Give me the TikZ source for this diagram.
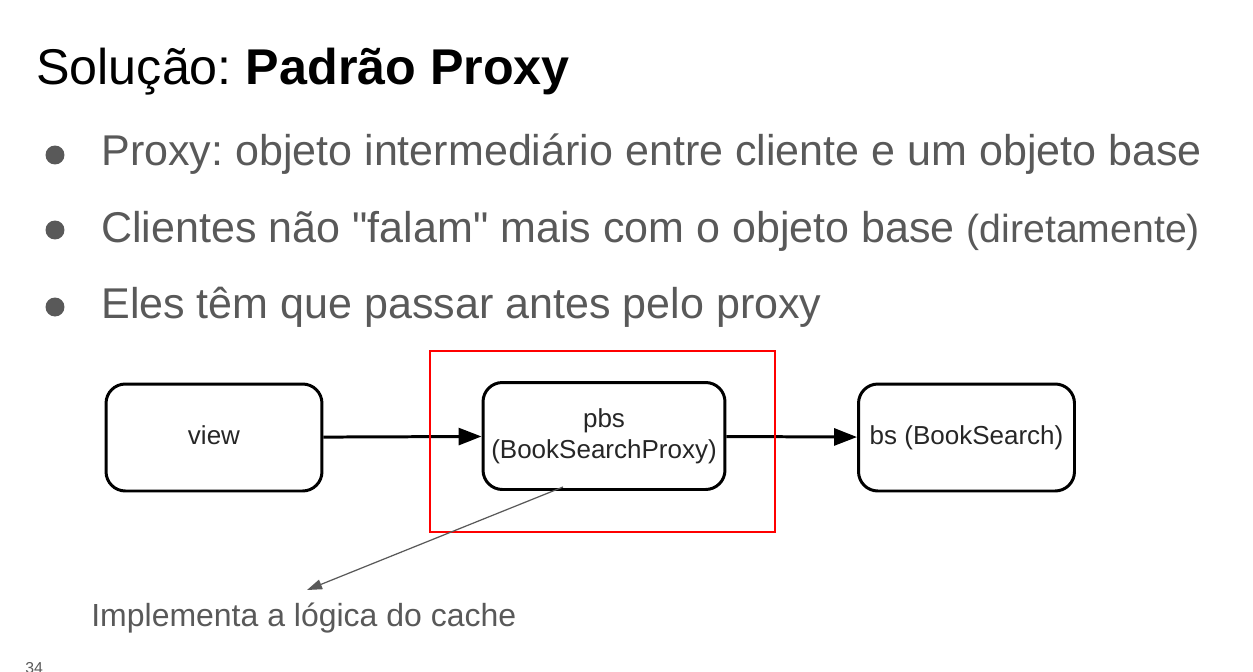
\documentclass[tikz,border=0pt]{standalone}
\usepackage{fontspec}
\setmainfont{Liberation Sans}[Ligatures=TeXOff]
\usetikzlibrary{arrows.meta}
\frenchspacing

\definecolor{slidegray}{HTML}{595959}
\definecolor{boxink}{HTML}{262626}

\tikzset{
  objbox/.style={draw, line width=1.7pt, rounded corners=11pt,
    minimum width=4.32cm, minimum height=2.14cm, align=center,
    text=boxink, font=\fontsize{14.8}{17.6}\selectfont},
  bulletdot/.style={circle, fill=slidegray, inner sep=0pt, minimum size=0.38cm},
  bullettext/.style={anchor=base west, inner sep=0pt, text=slidegray,
    font=\fontsize{24.5}{29}\selectfont},
  callflow/.style={-{Triangle[length=0.46cm, width=0.34cm]}, line width=1.7pt},
  notearrow/.style={-{Triangle[length=0.3cm, width=0.2cm]}, line width=0.7pt, slidegray}
}

\begin{document}
\begin{tikzpicture}[x=0.02cm, y=-0.02cm]
  \useasboundingbox (0,0) rectangle (1253,672);

  % title
  \node (title) [anchor=base west, inner sep=0pt, font=\fontsize{28.6}{34}\selectfont]
    at (36,85) {Solução: \textbf{Padrão Proxy}};

  % bullets
  \node (dot1) [bulletdot] at (55,155) {};
  \node (dot2) [bulletdot] at (55,230) {};
  \node (dot3) [bulletdot] at (55,307) {};
  \node (item1) [bullettext] at (101,166) {Proxy: objeto intermediário entre cliente e um objeto base};
  \node (item2) [bullettext] at (101,242) {Clientes não "falam" mais com o objeto base
    {\fontsize{22.3}{26}\selectfont(diretamente)}};
  \node (item3) [bullettext] at (101,318) {Eles têm que passar antes pelo proxy};

  % objects
  \node (view) [objbox, text depth=0.1cm] at (214,437.5) {view};
  \node (pbs) [objbox, minimum width=4.84cm] at (604,436) {pbs\\(BookSearchProxy)};
  \node (bs) [objbox, text depth=0.1cm] at (966.5,437.5) {bs (BookSearch)};
  \draw[callflow] (view) -- (pbs);
  \draw[callflow] (pbs) -- (bs);

  % proxy frame
  \draw[red, line width=0.6pt] (430,351) rectangle (775,532);

  % note
  \node (note) [anchor=base west, inner sep=0pt, text=slidegray,
    font=\fontsize{18.2}{22}\selectfont] at (91,626) {Implementa a lógica do cache};
  \coordinate (notefrom) at (563,487);
  \coordinate (noteto) at (307,590);
  \draw[notearrow] (notefrom) -- (noteto);

  % page number
  \node (pagenum) [anchor=base west, inner sep=0pt, text=slidegray,
    font=\fontsize{9}{11}\selectfont] at (25,673) {34};
\end{tikzpicture}
\end{document}
